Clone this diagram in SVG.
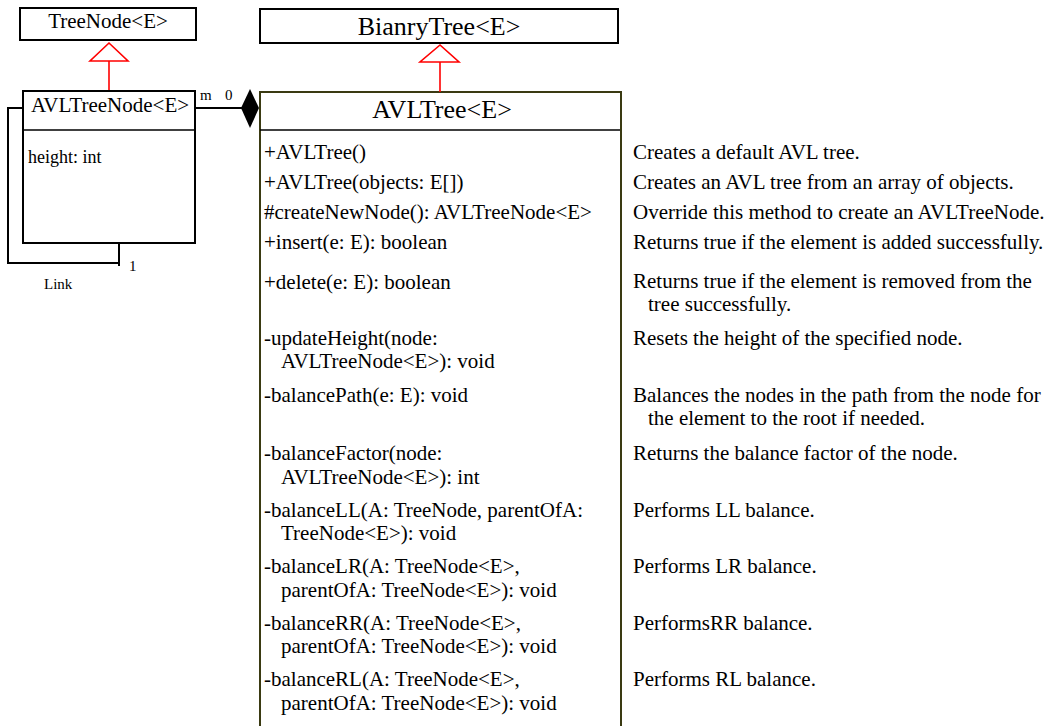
<svg xmlns="http://www.w3.org/2000/svg" width="1058" height="726" viewBox="0 0 1058 726">
  <style>
    text { font-family: "Liberation Serif", "Times New Roman", serif; fill: #000; }
    .box { fill: #fff; stroke: #000; stroke-width: 2; }
    .cls { fill: #fff; stroke: #3a3a12; stroke-width: 2; }
    .sep { stroke: #000; stroke-width: 1.6; }
    .title { font-size: 26px; text-anchor: middle; }
    .name { font-size: 21px; text-anchor: middle; }
    .m { font-size: 21px; }
    .d { font-size: 21px; }
    .small { font-size: 15px; }
    .gen { fill: #fff; stroke: #f00; stroke-width: 1.6; }
    .genline { stroke: #f00; stroke-width: 1.6; fill: none; }
    .link { stroke: #000; stroke-width: 2; fill: none; }
  </style>

  <!-- TreeNode<E> -->
  <g id="treenode">
    <rect class="box" x="20" y="8" width="176" height="32"/>
    <text class="name" x="108" y="28">TreeNode&lt;E&gt;</text>
  </g>

  <!-- BianryTree<E> -->
  <g id="binarytree">
    <rect class="box" x="260" y="9" width="358" height="34"/>
    <text class="title" x="439" y="35">BianryTree&lt;E&gt;</text>
  </g>

  <!-- AVLTreeNode<E> -->
  <g id="avltreenode">
    <rect class="box" x="23" y="91" width="172" height="152"/>
    <line class="sep" x1="23" y1="130" x2="195" y2="130"/>
    <text class="name" x="110" y="112">AVLTreeNode&lt;E&gt;</text>
    <text x="28" y="163" style="font-size:18px">height: int</text>
  </g>

  <!-- AVLTree<E> -->
  <g id="avltree">
    <rect class="cls" x="260" y="92" width="361" height="640"/>
    <line class="sep" x1="260" y1="130" x2="620" y2="130"/>
    <text class="title" x="442" y="118">AVLTree&lt;E&gt;</text>
    <text class="m" x="264" y="159">+AVLTree()</text>
    <text class="m" x="264" y="189">+AVLTree(objects: E[])</text>
    <text class="m" x="264" y="219">#createNewNode(): AVLTreeNode&lt;E&gt;</text>
    <text class="m" x="264" y="249">+insert(e: E): boolean</text>
    <text class="m" x="264" y="289">+delete(e: E): boolean</text>
    <text class="m" x="264" y="345">-updateHeight(node:</text>
    <text class="m" x="281" y="368">AVLTreeNode&lt;E&gt;): void</text>
    <text class="m" x="264" y="402">-balancePath(e: E): void</text>
    <text class="m" x="264" y="460">-balanceFactor(node:</text>
    <text class="m" x="281" y="484">AVLTreeNode&lt;E&gt;): int</text>
    <text class="m" x="264" y="517">-balanceLL(A: TreeNode, parentOfA:</text>
    <text class="m" x="281" y="540">TreeNode&lt;E&gt;): void</text>
    <text class="m" x="264" y="573">-balanceLR(A: TreeNode&lt;E&gt;,</text>
    <text class="m" x="281" y="597">parentOfA: TreeNode&lt;E&gt;): void</text>
    <text class="m" x="264" y="630">-balanceRR(A: TreeNode&lt;E&gt;,</text>
    <text class="m" x="281" y="653">parentOfA: TreeNode&lt;E&gt;): void</text>
    <text class="m" x="264" y="686">-balanceRL(A: TreeNode&lt;E&gt;,</text>
    <text class="m" x="281" y="710">parentOfA: TreeNode&lt;E&gt;): void</text>
  </g>

  <!-- method descriptions -->
  <g id="descriptions">
    <text class="d" x="633" y="159">Creates a default AVL tree.</text>
    <text class="d" x="633" y="189">Creates an AVL tree from an array of objects.</text>
    <text class="d" x="633" y="219">Override this method to create an AVLTreeNode.</text>
    <text class="d" x="633" y="249">Returns true if the element is added successfully.</text>
    <text class="d" x="633" y="288">Returns true if the element is removed from the</text>
    <text class="d" x="648" y="311">tree successfully.</text>
    <text class="d" x="633" y="345">Resets the height of the specified node.</text>
    <text class="d" x="633" y="402">Balances the nodes in the path from the node for</text>
    <text class="d" x="648" y="425">the element to the root if needed.</text>
    <text class="d" x="633" y="460">Returns the balance factor of the node.</text>
    <text class="d" x="633" y="517">Performs LL balance.</text>
    <text class="d" x="633" y="573">Performs LR balance.</text>
    <text class="d" x="633" y="630">PerformsRR balance.</text>
    <text class="d" x="633" y="686">Performs RL balance.</text>
  </g>

  <!-- connectors -->
  <g id="connectors">
    <!-- AVLTreeNode extends TreeNode -->
    <line class="genline" x1="109" y1="61" x2="109" y2="90"/>
    <polygon class="gen" points="109,43 90,61 128,61"/>
    <!-- AVLTree extends BianryTree -->
    <line class="genline" x1="440" y1="62" x2="440" y2="92"/>
    <polygon class="gen" points="440,45 420,62 459,62"/>
    <!-- composition AVLTree <>- AVLTreeNode -->
    <line class="link" x1="195" y1="108" x2="242" y2="108"/>
    <polygon points="241,108 250,89 259,108 250,128" fill="#000"/>
    <text class="small" x="200" y="100">m</text>
    <text class="small" x="225" y="100">0</text>
    <!-- self link on AVLTreeNode -->
    <polyline class="link" points="23,108 8,108 8,263 119,263"/>
    <line class="link" x1="119" y1="243" x2="119" y2="266"/>
    <text class="small" x="129" y="271">1</text>
    <text class="small" x="44" y="289">Link</text>
  </g>
</svg>
